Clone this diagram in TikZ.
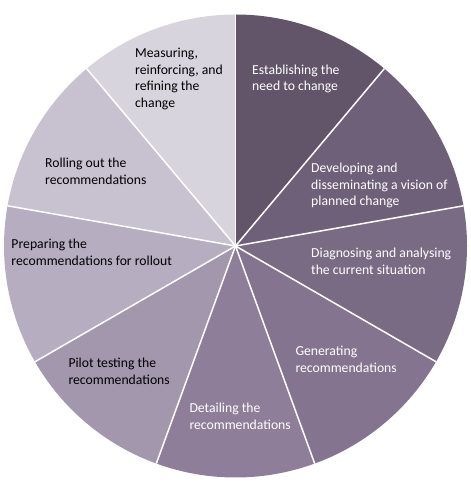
\documentclass[tikz,border=0pt]{standalone}
\usepackage{fontspec}
\setmainfont{Carlito}
\definecolor{cA}{HTML}{625469}
\definecolor{cB}{HTML}{6F6079}
\definecolor{cC}{HTML}{7A6B84}
\definecolor{cD}{HTML}{857490}
\definecolor{cE}{HTML}{8F7E9A}
\definecolor{cF}{HTML}{A397AD}
\definecolor{cG}{HTML}{B6ADC0}
\definecolor{cH}{HTML}{C8C2D0}
\definecolor{cI}{HTML}{D8D4DE}
\begin{document}
\begin{tikzpicture}[x=1bp,y=1bp,
  lbl/.style={anchor=north west,inner sep=0pt,align=left,
    font=\fontsize{13.7bp}{16.6bp}\selectfont},
  lightlbl/.style={lbl,text=white},
  darklbl/.style={lbl,text=black},
  sep/.style={white,line width=1.5bp}]
\useasboundingbox (0,0) rectangle (471,492);
\coordinate (C) at (235.5,246);
\def\R{231.5}
\foreach \a/\col in {90/cA,50/cB,10/cC,-30/cD,-70/cE,-110/cF,-150/cG,-190/cH,-230/cI}{
  \fill[\col] (C) -- ++(\a:\R) arc[start angle=\a,delta angle=-40,radius=\R] -- cycle;
}
\foreach \a in {90,50,10,-30,-70,-110,-150,-190,-230}{
  \draw[sep] (C) -- ++(\a:\R);
}
\node[lightlbl] (n1) at (252,429.7) {\strut Establishing the\\need to change};
\node[lightlbl] (n2) at (311,331.1) {\strut Developing and\\disseminating a vision of\\planned change};
\node[lightlbl] (n3) at (311,246.4) {\strut Diagnosing and analysing\\the current situation};
\node[lightlbl] (n4) at (295.3,148.1) {\strut Generating\\recommendations};
\node[lightlbl] (n5) at (189.3,91.1) {\strut Detailing the\\recommendations};
\node[darklbl] (n6) at (68.3,136.1) {\strut Pilot testing the\\recommendations};
\node[darklbl] (n7) at (11.3,255.4) {\strut Preparing the\\recommendations for rollout};
\node[darklbl] (n8) at (45,336.1) {\strut Rolling out the\\recommendations};
\node[darklbl] (n9) at (135,446.4) {\strut Measuring,\\reinforcing, and\\refining the\\change};
\end{tikzpicture}
\end{document}
